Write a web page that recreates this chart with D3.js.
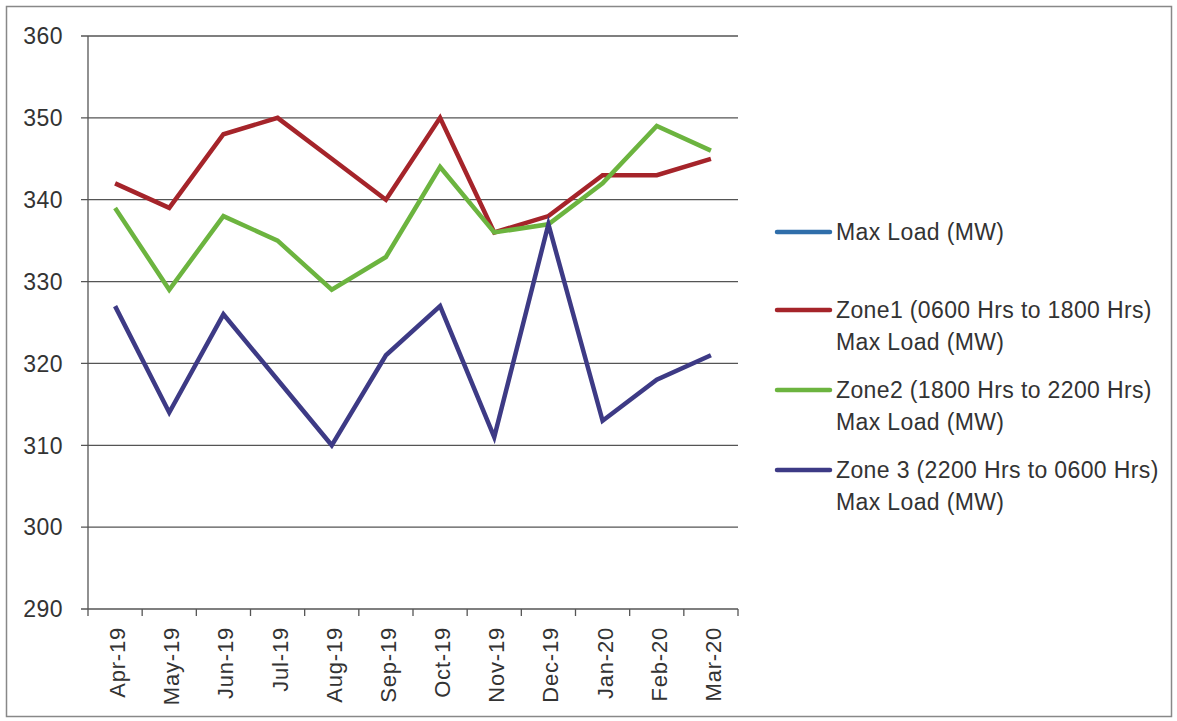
<!DOCTYPE html>
<html><head><meta charset="utf-8">
<script src="https://cdn.jsdelivr.net/npm/d3@7"></script>
<style>body{margin:0;background:#fff}svg{display:block}</style>
</head><body>
<script>
const categories = ["Apr-19","May-19","Jun-19","Jul-19","Aug-19","Sep-19","Oct-19","Nov-19","Dec-19","Jan-20","Feb-20","Mar-20"];
const maxLoad = []; // legend only; no visible line in the reference
const zone1 = [342,339,348,350,345,340,350,336,338,343,343,345];
const zone2 = [339,329,338,335,329,333,344,336,337,342,349,346];
const zone3 = [327,314,326,318,310,321,327,311,337,313,318,321];
const yTicks = [290,300,310,320,330,340,350,360];
const seriesNames = [["Max Load (MW)"],["Zone1 (0600 Hrs to 1800 Hrs)","Max Load (MW)"],["Zone2 (1800 Hrs to 2200 Hrs)","Max Load (MW)"],["Zone 3 (2200 Hrs to 0600 Hrs)","Max Load (MW)"]];
const seriesColors = ["#2f6eaa","#a5242a","#6cb43f","#3d3a85"];
const seriesData = [maxLoad, zone1, zone2, zone3];

(function(){
const W=1177,H=721;
const svg=d3.select("body").append("svg").attr("width",W).attr("height",H);
const font="'Liberation Sans', Arial, sans-serif";
svg.append("rect").attr("x",6.5).attr("y",6.5).attr("width",1165).attr("height",710)
  .attr("fill","#fff").attr("stroke","#888").attr("stroke-width",1.5);

const pL=88,pR=738,pT=36,pB=609;
const x=d3.scaleBand().domain(categories).range([pL,pR]);
const y=d3.scaleLinear().domain([290,360]).range([pB,pT]);

svg.append("g").selectAll("line").data(yTicks).join("line")
  .attr("x1",pL-7).attr("x2",pR).attr("y1",d=>y(d)).attr("y2",d=>y(d))
  .attr("stroke","#555").attr("stroke-width",1.3);
svg.append("line").attr("x1",pL).attr("x2",pL).attr("y1",pT).attr("y2",pB)
  .attr("stroke","#555").attr("stroke-width",1.3);
svg.append("g").selectAll("text").data(yTicks).join("text")
  .attr("x",63).attr("y",d=>y(d)).attr("dy","0.36em").attr("text-anchor","end")
  .attr("font-family",font).attr("font-size",23).attr("letter-spacing","0.5px")
  .attr("fill","#333").text(d=>d);
const bounds=categories.map(c=>x(c)).concat([pR]);
svg.append("g").selectAll("line").data(bounds).join("line")
  .attr("x1",d=>d).attr("x2",d=>d).attr("y1",pB).attr("y2",pB+7)
  .attr("stroke","#555").attr("stroke-width",1.3);
svg.append("g").selectAll("text").data(categories).join("text")
  .attr("transform",d=>`translate(${x(d)+x.bandwidth()/2+2},${pB+18}) rotate(-90)`)
  .attr("dy","0.36em").attr("text-anchor","end")
  .attr("font-family",font).attr("font-size",22).attr("letter-spacing","0.8px")
  .attr("fill","#333").text(d=>d);

const line=d3.line().x((d,i)=>x(categories[i])+x.bandwidth()/2).y(d=>y(d));
seriesData.forEach((s,k)=>{
  if(!s.length) return;
  svg.append("path").attr("d",line(s)).attr("fill","none")
    .attr("stroke",seriesColors[k]).attr("stroke-width",4.5)
    .attr("stroke-linejoin","miter").attr("stroke-linecap","butt");
});

const legY=[232,310,390,470];
seriesNames.forEach((lines,k)=>{
  svg.append("line").attr("x1",777).attr("x2",830).attr("y1",legY[k]).attr("y2",legY[k])
    .attr("stroke",seriesColors[k]).attr("stroke-width",4.5).attr("stroke-linecap","round");
  lines.forEach((t,j)=>{
    svg.append("text").attr("x",836).attr("y",legY[k]+j*32).attr("dy","0.36em")
      .attr("font-family",font).attr("font-size",23).attr("letter-spacing","0.37px")
      .attr("fill","#333").text(t);
  });
});
})();
</script>
</body></html>
